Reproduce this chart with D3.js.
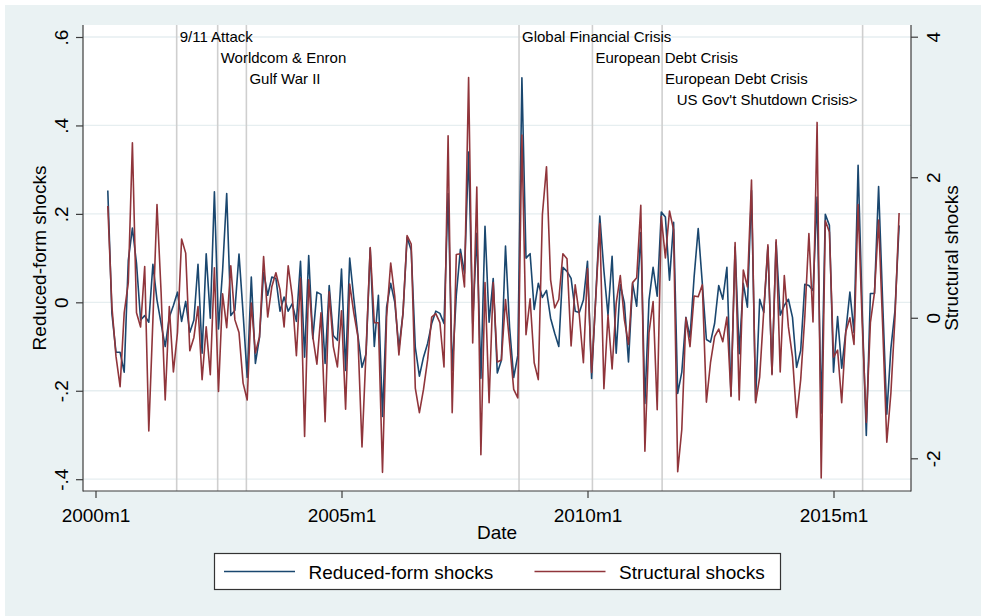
<!DOCTYPE html>
<html>
<head>
<meta charset="utf-8">
<script src="https://cdn.jsdelivr.net/npm/d3@7"></script>
<style>
  html, body { margin: 0; padding: 0; background: #ffffff; }
  svg { display: block; font-family: "Liberation Sans", Arial, sans-serif; }
</style>
</head>
<body>
<svg id="chart" width="981" height="616"></svg>
<script>
// ---------------- DATA ----------------
// Monthly observations, first observation = 2000m4 (month index 3, with 2000m1 = 0)
const firstMonthIndex = 3;

const reducedForm = [
  0.253, -0.025, -0.113, -0.113, -0.158, 0.095, 0.168, 0.088, -0.04, -0.03,
  -0.045, 0.086, 0.005, -0.048, -0.1, -0.034, -0.007, 0.023, -0.043, 0.002,
  -0.068, -0.04, 0.086, -0.115, 0.11, -0.036, 0.25, -0.06, 0.072, 0.246,
  -0.03, -0.018, 0.109, -0.025, -0.17, 0.057, -0.138, -0.079, 0.068, 0.016,
  0.057, 0.054, -0.02, 0.012, -0.02, -0.003, -0.043, 0.093, -0.124, 0.106,
  -0.082, 0.023, 0.018, -0.138, 0.038, -0.075, -0.086, 0.075, -0.154, 0.1,
  0.009, -0.075, -0.147, -0.116, 0.122, -0.1, 0.016, -0.258, -0.011, 0.043,
  0.0, -0.104, -0.025, 0.147, 0.118, -0.102, -0.167, -0.124, -0.093, -0.048,
  -0.02, -0.025, -0.048, 0.246, -0.154, 0.016, 0.12, 0.066, 0.34, -0.048,
  0.156, -0.172, 0.172, -0.045, 0.054, -0.16, -0.131, 0.127, -0.057, -0.17,
  -0.12, 0.508, 0.1, 0.11, -0.016, 0.043, 0.011, 0.027, -0.036, -0.07,
  -0.1, 0.079, 0.07, 0.054, -0.02, -0.023, 0.005, 0.093, -0.172, 0.011,
  0.195, 0.072, -0.029, 0.104, -0.115, 0.04, -0.002, -0.135, 0.043, -0.009,
  0.158, -0.229, 0.005, 0.079, 0.014, 0.204, 0.193, 0.05, 0.181, -0.206,
  -0.158, -0.034, -0.079, 0.057, 0.167, 0.043, -0.084, -0.09, -0.048, 0.038,
  0.007, 0.079, -0.21, 0.125, -0.116, 0.043, -0.011, 0.253, -0.222, 0.007,
  -0.023, 0.125, -0.161, 0.136, -0.029, -0.007, 0.007, -0.034, -0.147, -0.109,
  0.041, 0.038, 0.027, 0.238, -0.251, 0.199, 0.174, -0.158, -0.032, -0.149,
  -0.066, 0.023, -0.068, 0.31, -0.018, -0.301, 0.02, 0.02, 0.262, -0.002,
  -0.253, -0.104, -0.018, 0.174
];

const structural = [
  1.59, 0.16, -0.55, -0.98, 0.07, 0.5, 2.49, 0.07, -0.13, 0.73,
  -1.61, -0.03, 1.61, 0.36, -1.17, 0.16, -0.77, -0.21, 1.12, 0.92,
  -0.47, -0.28, 0.16, -0.88, -0.13, -0.81, 0.71, -1.05, 0.34, -0.14,
  0.74, -0.03, -0.21, -0.93, -1.17, 0.21, -0.5, -0.27, 0.87, 0.01,
  0.44, 0.64, 0.4, -0.13, 0.74, 0.3, -0.54, 0.56, -1.69, 0.54,
  -0.27, -0.66, 0.07, -1.48, 0.37, -0.41, -0.7, 0.1, -1.3, 0.48,
  0.07, -0.27, -1.84, -0.46, 1.0, -0.07, -0.07, -2.2, 0.01, 0.78,
  0.3, -0.53, 0.07, 1.17, 1.05, -1.0, -1.35, -1.02, -0.6, 0.01,
  0.06, -0.07, -0.7, 2.59, -1.35, 0.9, 0.91, 0.44, 3.42, -0.36,
  1.86, -1.95, 0.5, -1.21, 0.5, -0.63, -0.6, 0.26, -0.36, -1.02,
  -1.14, 2.6, -0.24, 0.27, -0.64, -0.88, 1.47, 2.15, 0.54, 0.14,
  0.26, 0.91, 0.84, -0.4, 0.47, 0.04, -0.64, 0.7, -0.78, 0.26,
  1.34, -1.01, 0.04, -0.73, 0.21, 0.6, -0.03, -0.38, 0.5, 0.57,
  1.6, -1.9, -0.21, 0.23, -1.31, 1.44, 0.85, 1.52, 1.25, -2.19,
  -1.59, 0.0, -0.41, 0.31, 0.3, 0.47, -1.2, -0.64, -0.27, -0.16,
  -0.34, 0.01, -1.12, 1.07, -1.17, 0.68, 0.44, 1.96, -1.21, -0.84,
  0.11, 1.04, -0.81, 1.11, -0.77, 0.6, -0.13, -0.56, -1.42, -0.88,
  0.01, 1.2, -0.06, 2.78, -2.28, 1.38, 1.22, -0.56, -0.46, -1.21,
  -0.2, 0.0, -0.38, 1.61, -0.07, -1.49, -0.07, 0.36, 1.39, -0.13,
  -1.77, -1.07, 0.01, 1.49
];

const xTickMonths = [0, 60, 120, 180];
const xTickLabels = ["2000m1", "2005m1", "2010m1", "2015m1"];

const leftTicks = [-0.4, -0.2, 0, 0.2, 0.4, 0.6];
const leftTickLabels = ["-.4", "-.2", "0", ".2", ".4", ".6"];

const rightTicks = [-2, 0, 2, 4];
const rightTickLabels = ["-2", "0", "2", "4"];

// Event lines (month index, 2000m1 = 0) and labels
const eventMonths = [19.8, 29.8, 36.8, 103.3, 121.2, 138.2, 187.1];
const eventLabels = ["9/11 Attack", "Worldcom & Enron", "Gulf War II",
  "Global Financial Crisis", "European Debt Crisis", "European Debt Crisis",
  "US Gov't Shutdown Crisis>"];
const eventRows = [0, 1, 2, 0, 1, 2, 3];
const eventAnchors = ["start", "start", "start", "start", "start", "start", "end"];

const seriesNames = ["Reduced-form shocks", "Structural shocks"];
const seriesColors = ["#1a476f", "#90353b"];

// ---------------- LAYOUT ----------------
const W = 981, H = 616;
const plot = { left: 83, right: 911, top: 25, bottom: 491 };

const svg = d3.select("#chart");

svg.append("rect").attr("x", 5).attr("y", 5).attr("width", W - 5).attr("height", H - 5)
  .attr("fill", "#eaf2f3");
svg.append("rect").attr("x", plot.left).attr("y", plot.top)
  .attr("width", plot.right - plot.left).attr("height", plot.bottom - plot.top)
  .attr("fill", "#ffffff");

const x = d3.scaleLinear().domain([0, 180]).range([95.5, 833.5]);
const yL = d3.scaleLinear().domain([-0.4, 0.6]).range([479.2, 37]);
const yR = d3.scaleLinear().domain([-2, 4]).range([458.3, 36.7]);

// grid lines (left axis)
svg.append("g").selectAll("line").data(leftTicks).join("line")
  .attr("x1", plot.left).attr("x2", plot.right)
  .attr("y1", d => yL(d)).attr("y2", d => yL(d))
  .attr("stroke", "#e6eef0").attr("stroke-width", 1.3);

// event lines
svg.append("g").selectAll("line").data(eventMonths).join("line")
  .attr("x1", d => x(d)).attr("x2", d => x(d))
  .attr("y1", plot.top).attr("y2", plot.bottom)
  .attr("stroke", "#cfcfcf").attr("stroke-width", 1.6);

// event labels
const rowBase = [42.3, 63.3, 84.3, 105.3];
svg.append("g").selectAll("text").data(eventMonths).join("text")
  .attr("x", (d, i) => eventAnchors[i] === "start" ? x(d) + 3 : x(d) - 5)
  .attr("y", (d, i) => rowBase[eventRows[i]])
  .attr("text-anchor", (d, i) => eventAnchors[i])
  .attr("font-size", 15).attr("fill", "#000")
  .text((d, i) => eventLabels[i]);

// series
const lineL = d3.line().x((d, i) => x(firstMonthIndex + i)).y(d => yL(d));
const lineR = d3.line().x((d, i) => x(firstMonthIndex + i)).y(d => yR(d));

svg.append("path").datum(reducedForm).attr("d", lineL)
  .attr("fill", "none").attr("stroke", seriesColors[0]).attr("stroke-width", 1.6)
  .attr("stroke-linejoin", "round");
svg.append("path").datum(structural).attr("d", lineR)
  .attr("fill", "none").attr("stroke", seriesColors[1]).attr("stroke-width", 1.6)
  .attr("stroke-linejoin", "round");

// axis lines
const axisColor = "#3c3c3c";
svg.append("line").attr("x1", plot.left).attr("x2", plot.left)
  .attr("y1", plot.top).attr("y2", plot.bottom + 0.5).attr("stroke", axisColor).attr("stroke-width", 1.2);
svg.append("line").attr("x1", plot.right).attr("x2", plot.right)
  .attr("y1", plot.top).attr("y2", plot.bottom + 0.5).attr("stroke", axisColor).attr("stroke-width", 1.2);
svg.append("line").attr("x1", plot.left).attr("x2", plot.right)
  .attr("y1", plot.bottom).attr("y2", plot.bottom).attr("stroke", axisColor).attr("stroke-width", 1.2);

// left axis
const gL = svg.append("g").attr("transform", `translate(${plot.left},0)`)
  .call(d3.axisLeft(yL).tickValues(leftTicks).tickSize(7)
    .tickFormat((d, i) => leftTickLabels[i]));
gL.select(".domain").remove();
gL.selectAll(".tick line").attr("stroke", axisColor).attr("stroke-width", 1.2);
gL.selectAll(".tick text").attr("x", null).attr("dy", null).attr("y", null)
  .attr("text-anchor", "middle").attr("transform", "translate(-15,0) rotate(-90)")
  .attr("font-size", 19).attr("font-family", "Liberation Sans, Arial, sans-serif").attr("fill", "#000");

// right axis
const gR = svg.append("g").attr("transform", `translate(${plot.right},0)`)
  .call(d3.axisRight(yR).tickValues(rightTicks).tickSize(7)
    .tickFormat((d, i) => rightTickLabels[i]));
gR.select(".domain").remove();
gR.selectAll(".tick line").attr("stroke", axisColor).attr("stroke-width", 1.2);
gR.selectAll(".tick text").attr("x", null).attr("dy", null).attr("y", null)
  .attr("text-anchor", "middle").attr("transform", "translate(29,0) rotate(-90)")
  .attr("font-size", 19).attr("font-family", "Liberation Sans, Arial, sans-serif").attr("fill", "#000");

// bottom axis
const gB = svg.append("g").attr("transform", `translate(0,${plot.bottom})`)
  .call(d3.axisBottom(x).tickValues(xTickMonths).tickSize(7)
    .tickFormat((d, i) => xTickLabels[i]));
gB.select(".domain").remove();
gB.selectAll(".tick line").attr("stroke", axisColor).attr("stroke-width", 1.2);
gB.selectAll(".tick text").attr("dy", null).attr("y", 31)
  .attr("font-size", 19).attr("font-family", "Liberation Sans, Arial, sans-serif").attr("fill", "#000");

// axis titles
const midY = (plot.top + plot.bottom) / 2;
svg.append("text").attr("transform", `translate(46,${midY}) rotate(-90)`)
  .attr("text-anchor", "middle").attr("font-size", 19).text("Reduced-form shocks");
svg.append("text").attr("transform", `translate(958,${midY}) rotate(-90)`)
  .attr("text-anchor", "middle").attr("font-size", 19).text("Structural shocks");
svg.append("text").attr("x", (plot.left + plot.right) / 2).attr("y", 539)
  .attr("text-anchor", "middle").attr("font-size", 19).text("Date");

// legend
const lg = svg.append("g");
lg.append("rect").attr("x", 214.5).attr("y", 553.5).attr("width", 566).attr("height", 36)
  .attr("fill", "#fff").attr("stroke", "#333").attr("stroke-width", 1.2);
const legendSampleX = [224, 534.5];
const legendTextX = [308.5, 619];
seriesNames.forEach((name, i) => {
  lg.append("line").attr("x1", legendSampleX[i]).attr("x2", legendSampleX[i] + 71)
    .attr("y1", 571.5).attr("y2", 571.5).attr("stroke", seriesColors[i]).attr("stroke-width", 1.6);
  lg.append("text").attr("x", legendTextX[i]).attr("y", 578.5).attr("font-size", 19).text(name);
});
</script>
</body>
</html>
